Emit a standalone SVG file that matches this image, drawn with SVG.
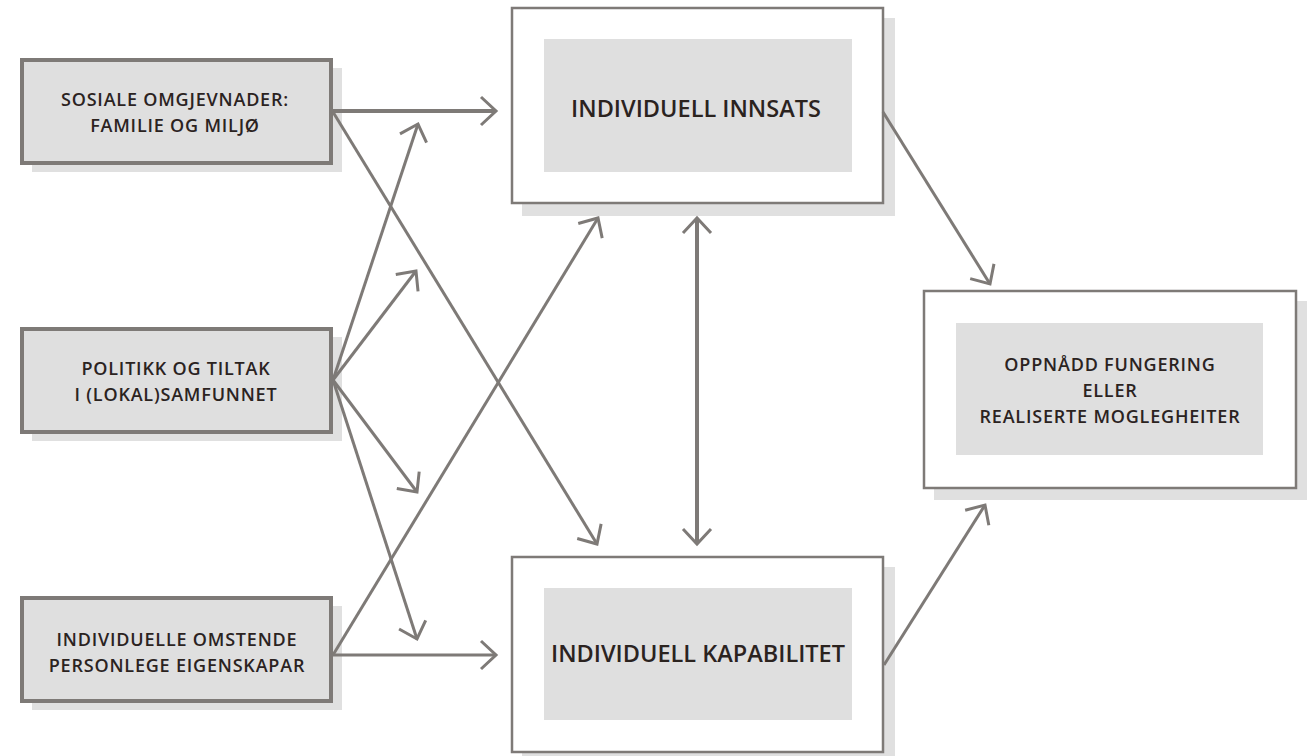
<svg xmlns="http://www.w3.org/2000/svg" width="1314" height="756" viewBox="0 0 1314 756">
<defs>
<style>
.shadow{fill:#e0e0e0}
.lbox{fill:#dfdfdf;stroke:#7e7a77;stroke-width:4}
.obox{fill:#ffffff;stroke:#7e7a77;stroke-width:2.5}
.inner{fill:#dfdfdf}
.t{font-family:"Open Sans","Liberation Sans",sans-serif;fill:#2b231f;text-anchor:middle}
.small{font-size:18px;font-weight:600;letter-spacing:0.8px}
.big{font-size:23.5px;font-weight:600}
.c{fill:none;stroke:#7e7a77;stroke-width:3}
</style>
<marker id="ah" markerUnits="userSpaceOnUse" viewBox="-20 -20 24 40" refX="0" refY="0" markerWidth="24" markerHeight="40" orient="auto-start-reverse">
<path d="M-15,-14 L0,0 L-15,14" fill="none" stroke="#7e7a77" stroke-width="3"/>
</marker>
</defs>
<rect width="1314" height="756" fill="#ffffff"/>

<g id="sosiale">
<rect class="shadow" x="32" y="68" width="310" height="104"/>
<rect class="lbox" x="22" y="60" width="309" height="103"/>
<text class="t small" x="175" y="106">SOSIALE OMGJEVNADER:</text>
<text class="t small" x="175" y="132">FAMILIE OG MILJØ</text>
</g>

<g id="politikk">
<rect class="shadow" x="32" y="337" width="310" height="104"/>
<rect class="lbox" x="22" y="329" width="309" height="103"/>
<text class="t small" x="176" y="375">POLITIKK OG TILTAK</text>
<text class="t small" x="176" y="401">I (LOKAL)SAMFUNNET</text>
</g>

<g id="individuelle">
<rect class="shadow" x="32" y="606" width="310" height="104"/>
<rect class="lbox" x="22" y="598" width="309" height="103"/>
<text class="t small" x="177" y="646">INDIVIDUELLE OMSTENDE</text>
<text class="t small" x="177" y="672">PERSONLEGE EIGENSKAPAR</text>
</g>

<g id="innsats">
<rect class="shadow" x="522" y="18" width="373" height="198"/>
<rect class="obox" x="512" y="8" width="371" height="195"/>
<rect class="inner" x="544" y="39" width="308" height="133"/>
<text class="t big" x="696" y="117">INDIVIDUELL INNSATS</text>
</g>

<g id="kapabilitet">
<rect class="shadow" x="522" y="567" width="373" height="189"/>
<rect class="obox" x="512" y="557" width="371" height="195"/>
<rect class="inner" x="544" y="588" width="308" height="132"/>
<text class="t big" x="698" y="662">INDIVIDUELL KAPABILITET</text>
</g>

<g id="oppnadd">
<rect class="shadow" x="934" y="301" width="373" height="199"/>
<rect class="obox" x="924" y="291" width="372" height="197"/>
<rect class="inner" x="956" y="323" width="307" height="132"/>
<text class="t small" x="1110" y="371">OPPNÅDD FUNGERING</text>
<text class="t small" x="1110" y="397">ELLER</text>
<text class="t small" x="1110" y="423">REALISERTE MOGLEGHEITER</text>
</g>

<g id="connectors">
<line class="c" x1="333" y1="111" x2="496" y2="111" style="stroke-width:4" marker-end="url(#ah)"/>
<line class="c" x1="333" y1="112" x2="597" y2="544" marker-end="url(#ah)"/>
<line class="c" x1="333" y1="380" x2="418" y2="124" marker-end="url(#ah)"/>
<line class="c" x1="333" y1="380" x2="416" y2="271" marker-end="url(#ah)"/>
<line class="c" x1="333" y1="380" x2="417" y2="492" marker-end="url(#ah)"/>
<line class="c" x1="333" y1="380" x2="417" y2="639" marker-end="url(#ah)"/>
<line class="c" x1="333" y1="655" x2="598" y2="218" marker-end="url(#ah)"/>
<line class="c" x1="333" y1="655" x2="496" y2="655" marker-end="url(#ah)"/>
<line class="c" x1="883" y1="112" x2="990" y2="284" marker-end="url(#ah)"/>
<line class="c" x1="884" y1="665" x2="985" y2="505" marker-end="url(#ah)"/>
<line class="c" x1="697" y1="218" x2="697" y2="544" style="stroke-width:4" marker-start="url(#ah)" marker-end="url(#ah)"/>
</g>
</svg>
